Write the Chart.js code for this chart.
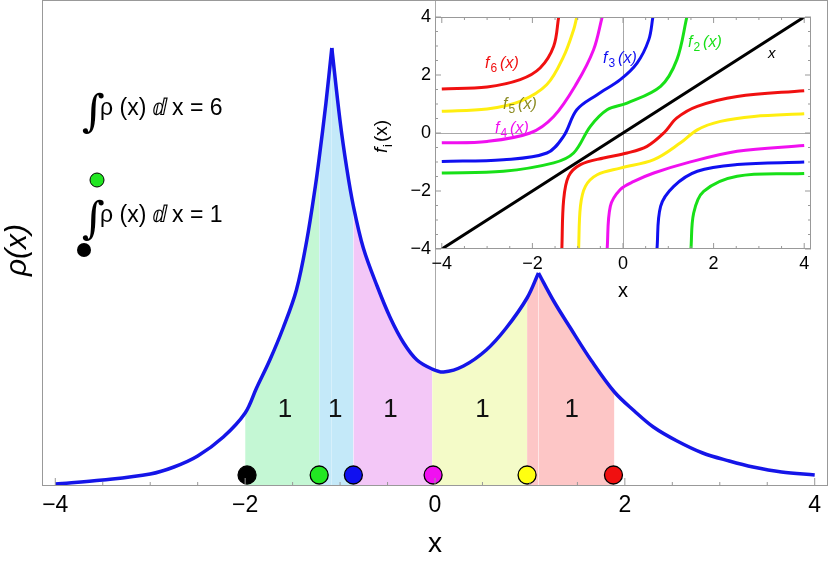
<!DOCTYPE html>
<html><head><meta charset="utf-8">
<script src="https://cdn.jsdelivr.net/npm/chart.js@4"></script>
<style>body{margin:0;background:#fff}#wrap{position:relative;width:830px;height:565px}
#main{position:absolute;left:0;top:0}#inset{position:absolute;left:365px;top:0}</style>
</head><body><div id="wrap"><canvas id="main" width="830" height="565"></canvas><canvas id="inset" width="465" height="300"></canvas></div>
<script>
// ---- main density data (x, rho in arbitrary units) ----
const rhoX = [-4.0,-3.5,-3.0,-2.75,-2.5,-2.23,-2.0,-1.88,-1.74,-1.6,-1.46,-1.35,-1.26,-1.22,-1.15,-1.087,-1.0,-0.93,-0.86,-0.755,-0.61,-0.47,-0.33,-0.19,-0.03,0.09,0.3,0.54,0.75,0.97,1.09,1.25,1.42,1.65,1.89,2.1,2.3,2.55,2.82,3.1,3.35,3.65,4.0];
const rhoY = [2,6,12,19,30,49,73,98,126,158,196,246,300,328,382,438,365,318,280,238,200,168,143,126,117,114,120,136,158,188,213,185,159,125,94,75,59,45,33,25,19,14,11];
const peakX = [-1.087, 1.09];
const bounds = [-2.0,-1.22,-0.86,-0.03,0.97,1.89];
const regionColors = ['#c4f7d4','#c4e9f9','#f3c7f7','#f4fbc8','#fdc6c6'];
const regionLabels = ['1','1','1','1','1'];
const labelX = [-1.58,-1.05,-0.47,0.5,1.44];
const dotX = [-1.98,-1.22,-0.86,-0.02,0.97,1.88];
const dotColors = ['#000','#22e622','#1010f0','#f010f0','#ffff10','#f01010'];
const mainTicks = [-4,-2,0,2,4];

// ---- inset curves ----
const f6L = [[-4,1.52],[-3,1.59],[-2.27,1.84],[-1.83,2.24],[-1.53,2.99],[-1.42,4.0]];
const f6R = [[-1.35,-4],[-1.31,-2.3],[-1.2,-1.49],[-0.94,-1.09],[-0.43,-0.86],[0.09,-0.69],[0.53,-0.46],[0.9,0],[1.19,0.52],[1.64,0.92],[2.52,1.26],[4,1.46]];
const f5L = [[-4,0.75],[-3,0.83],[-2.27,1.09],[-1.68,1.67],[-1.31,2.64],[-1.09,3.56],[-1.02,4]];
const f5R = [[-0.98,-4],[-0.94,-2.53],[-0.83,-1.84],[-0.57,-1.44],[-0.06,-1.21],[0.68,-0.92],[1.27,-0.34],[1.64,0.11],[2.15,0.4],[2.89,0.57],[4,0.66]];
const f4L = [[-4,-0.34],[-3,-0.29],[-2.05,0],[-1.53,0.57],[-1.02,1.72],[-0.65,2.87],[-0.46,4]];
const f4R = [[-0.35,-4],[-0.28,-2.53],[-0.06,-1.95],[0.24,-1.67],[0.68,-1.38],[1.41,-1.03],[2.52,-0.63],[4,-0.43]];
const f3L = [[-4,-0.98],[-2.64,-0.92],[-1.68,-0.69],[-1.31,-0.11],[-1.02,0.8],[-0.57,1.32],[-0.06,1.84],[0.31,2.41],[0.57,3.22],[0.66,4]];
const f3R = [[0.75,-4],[0.83,-2.53],[1.12,-1.84],[1.64,-1.32],[2.52,-1.09],[4,-1.0]];
const f2L = [[-4,-1.38],[-2.64,-1.32],[-1.53,-1.03],[-1.09,-0.69],[-0.72,0.23],[-0.35,0.8],[0.09,1.03],[0.83,1.61],[1.19,2.53],[1.41,4]];
const f2R = [[1.5,-4],[1.56,-2.76],[1.78,-2.01],[2.52,-1.49],[4,-1.4]];
const identity = [[-4,-4],[4,4]];
const insetTicks = [-4,-2,0,2,4];

const FONT = '"Liberation Sans", Arial, sans-serif';
const TENSION = 0.35;
const pts = rhoX.map((x,i)=>({x, y:rhoY[i]}));
const cuts = [-Infinity, ...peakX, Infinity];
const pieces = [];
for (let k=0;k<cuts.length-1;k++) pieces.push(pts.filter(p=>p.x>=cuts[k] && p.x<=cuts[k+1]));

const datasets = [];
for (let r=0;r<bounds.length-1;r++){
  const a=bounds[r], b=bounds[r+1];
  for (const pc of pieces){
    const lo=Math.max(a,pc[0].x), hi=Math.min(b,pc[pc.length-1].x);
    if (hi<=lo) continue;
    const d = pc.filter(p=>p.x>=lo-1e-9 && p.x<=hi+1e-9);
    if (d.length<2) continue;
    datasets.push({type:'line',data:d,borderWidth:0,pointRadius:0,fill:'origin',backgroundColor:regionColors[r],tension:TENSION,order:5});
  }
}
for (const pc of pieces) datasets.push({type:'line',data:pc,borderColor:'#1515e8',borderWidth:3.5,pointRadius:0,fill:false,tension:TENSION,order:2});
datasets.push({type:'scatter',data:dotX.map(x=>({x,y:11})),pointRadius:9,pointBackgroundColor:dotColors,pointBorderColor:'#000',pointBorderWidth:1.3,order:0});

const mainPlugin = {
  id:'mainDeco',
  afterDatasetsDraw(chart){
    const c=chart.ctx, xs=chart.scales.x, ys=chart.scales.y, a=chart.chartArea;
    c.save();
    c.fillStyle='#111'; c.font='26px '+FONT; c.textAlign='center'; c.textBaseline='middle';
    labelX.forEach((x,i)=>c.fillText(regionLabels[i], xs.getPixelForValue(x), ys.getPixelForValue(76)));
    c.strokeStyle='#999'; c.lineWidth=1; c.strokeRect(a.left+0.5,a.top+0.5,a.right-a.left-1,a.bottom-a.top-1);
    for (let v=-4; v<=4.001; v+=0.5){
      const px=xs.getPixelForValue(v), len=(Math.abs(v%2)<1e-6)?8:4;
      c.beginPath(); c.moveTo(px,a.bottom); c.lineTo(px,a.bottom-len); c.stroke();
    }
    c.fillStyle='#000'; c.textAlign='left'; c.textBaseline='alphabetic';
    function integral(x,y,val){
      c.font='italic 44px "DejaVu Serif", serif'; c.fillText('\u222B',x-8,y+11);
      c.font='23px '+FONT; c.fillText('\u03C1 (x) \u2146 x = '+val,x+10,y);
    }
    integral(90,115,'6'); integral(90,222,'1');
    c.strokeStyle='#000'; c.lineWidth=1;
    c.fillStyle='#22e622'; c.beginPath(); c.arc(97,180,7,0,7); c.fill(); c.stroke();
    c.fillStyle='#000'; c.beginPath(); c.arc(84,250,7,0,7); c.fill();
    c.translate(26,250); c.rotate(-Math.PI/2); c.font='italic 30px '+FONT; c.textAlign='center'; c.fillText('\u03C1(x)',0,0);
    c.restore();
  }
};

new Chart(document.getElementById('main'),{
  data:{datasets},
  options:{responsive:false,animation:false,events:[],
    layout:{autoPadding:false,padding:{left:42,right:2,top:0,bottom:0}},
    plugins:{legend:{display:false},tooltip:{enabled:false}},
    scales:{
      x:{type:'linear',min:-4.14,max:4.14,afterBuildTicks:s=>{s.ticks=mainTicks.map(v=>({value:v}));},
        afterFit:s=>{s.height=79;},
        ticks:{font:{size:23,family:FONT},color:'#000',padding:6,callback:v=>v<0?'\u2212'+Math.abs(v):String(v)},
        grid:{drawTicks:false,color:ctx=>ctx.tick&&ctx.tick.value===0?'#aaa':'transparent',lineWidth:1},
        border:{display:false},
        title:{display:true,text:'x',font:{size:28,family:FONT},color:'#000',padding:{top:2}}},
      y:{type:'linear',min:0,max:486,display:false}
    }},
  plugins:[mainPlugin]
});

// ---- inset ----
const toXY = arr=>arr.map(([x,y])=>({x,y}));
const insetSeries = [
  [f6L,'#f01010'],[f6R,'#f01010'],[f5L,'#ffee10'],[f5R,'#ffee10'],[f4L,'#f010f0'],[f4R,'#f010f0'],
  [f3L,'#1010f0'],[f3R,'#1010f0'],[f2L,'#18e018'],[f2R,'#18e018'],[identity,'#000']
];
const insetPlugin = {
  id:'insetDeco',
  beforeDraw(chart){const c=chart.ctx,a=chart.chartArea;c.save();c.fillStyle='#fff';c.fillRect(a.left,a.top,a.right-a.left,a.bottom-a.top);c.restore();},
  afterDraw(chart){
    const c=chart.ctx,a=chart.chartArea,xs=chart.scales.x,ys=chart.scales.y;
    c.save();
    c.strokeStyle='#999';c.lineWidth=1;c.strokeRect(a.left+0.5,a.top+0.5,a.right-a.left-1,a.bottom-a.top-1);
    for(let v=-4;v<=4.001;v+=0.5){
      const len=(Math.abs(v%2)<1e-6)?6:3;
      let px=xs.getPixelForValue(v);
      c.beginPath();c.moveTo(px,a.bottom);c.lineTo(px,a.bottom-len);c.moveTo(px,a.top);c.lineTo(px,a.top+len);c.stroke();
      let py=ys.getPixelForValue(v);
      c.beginPath();c.moveTo(a.left,py);c.lineTo(a.left+len,py);c.moveTo(a.right,py);c.lineTo(a.right-len,py);c.stroke();
    }
    function lab(x,y,n,col){
      c.fillStyle=col;c.textBaseline='alphabetic';c.textAlign='left';
      c.font='italic 16px '+FONT;c.fillText('f',x,y);let w=c.measureText('f').width;
      c.font='12px '+FONT;c.fillText(n,x+w+1,y+4);w+=c.measureText(n).width+2;
      c.font='italic 16px '+FONT;c.fillText('(x)',x+w+2,y);
    }
    lab(120,68,'6','#f01010'); lab(138,109,'5','#8a8a20'); lab(130,133,'4','#f010f0');
    lab(238,63,'3','#1010f0'); lab(323,47,'2','#18e018');
    c.fillStyle='#000';c.font='italic 15px '+FONT;c.fillText('x',403,58);
    c.font='20px '+FONT;c.textAlign='center';c.fillText('x',258,297);
    c.translate(22,133);c.rotate(-Math.PI/2);c.textAlign='left';
    c.font='italic 19px '+FONT;c.fillText('f',-20,0);c.font='13px '+FONT;c.fillText('i',-14,5);c.font='19px '+FONT;c.fillText('(x)',-9,0);
    c.restore();
  }
};
new Chart(document.getElementById('inset'),{
  type:'line',
  data:{datasets:insetSeries.map(([d,col])=>({data:toXY(d),borderColor:col,borderWidth:3,pointRadius:0,fill:false,tension:TENSION}))},
  options:{responsive:false,animation:false,events:[],
    layout:{autoPadding:false,padding:{left:0,right:19,top:17,bottom:0}},
    plugins:{legend:{display:false},tooltip:{enabled:false}},
    scales:{
      x:{type:'linear',min:-4.15,max:4.15,afterBuildTicks:s=>{s.ticks=insetTicks.map(v=>({value:v}));},afterFit:s=>{s.height=51;},
        ticks:{font:{size:18,family:FONT},color:'#000',padding:4,callback:v=>v<0?'\u2212'+Math.abs(v):String(v)},
        grid:{drawTicks:false,color:ctx=>ctx.tick&&ctx.tick.value===0?'#aaa':'transparent'},border:{display:false}},
      y:{type:'linear',min:-4,max:4,afterBuildTicks:s=>{s.ticks=insetTicks.map(v=>({value:v}));},afterFit:s=>{s.width=70;},
        ticks:{font:{size:18,family:FONT},color:'#000',padding:4,callback:v=>v<0?'\u2212'+Math.abs(v):String(v)},
        grid:{drawTicks:false,color:ctx=>ctx.tick&&ctx.tick.value===0?'#aaa':'transparent'},border:{display:false}}
    }},
  plugins:[insetPlugin]
});
</script></body></html>
